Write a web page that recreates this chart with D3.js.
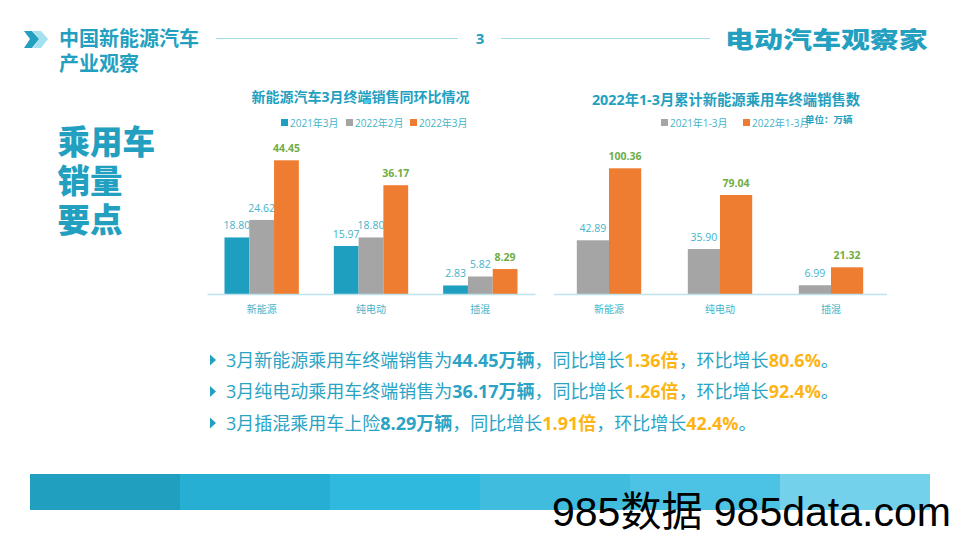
<!DOCTYPE html>
<html>
<head>
<meta charset="utf-8">
<script src="https://cdn.jsdelivr.net/npm/d3@7"></script>
<style>
  html, body { margin: 0; padding: 0; background: #fff; }
  svg { display: block; }
  text { font-family: "Open Sans", "Noto Sans CJK SC", sans-serif; }
</style>
</head>
<body>
<div id="chart"></div>
<script>
// data
const categories = ["新能源", "纯电动", "插混"];

const series1Names = ["2021年3月", "2022年2月", "2022年3月"];
const march2021 = [18.80, 15.97, 2.83];
const feb2022 = [24.62, 18.80, 5.82];
const march2022 = [44.45, 36.17, 8.29];

const series2Names = ["2021年1-3月", "2022年1-3月"];
const q1_2021 = [42.89, 35.90, 6.99];
const q1_2022 = [100.36, 79.04, 21.32];

const bulletLines = [
  [["3月新能源乘用车终端销售为", "n"], ["44.45万辆", "b"], ["，同比增长", "n"], ["1.36倍", "y"], ["，环比增长", "n"], ["80.6%", "y"], ["。", "n"]],
  [["3月纯电动乘用车终端销售为", "n"], ["36.17万辆", "b"], ["，同比增长", "n"], ["1.26倍", "y"], ["，环比增长", "n"], ["92.4%", "y"], ["。", "n"]],
  [["3月插混乘用车上险", "n"], ["8.29万辆", "b"], ["，同比增长", "n"], ["1.91倍", "y"], ["，环比增长", "n"], ["42.4%", "y"], ["。", "n"]]
];

const footerColors = ["#209fbe", "#26aed3", "#2fb9df", "#3fbcde", "#4cc3e4", "#74d1ec"];

// colours
const teal = "#1f9fc0";
const tealText = "#45b3c9";
const grey = "#a5a5a5";
const orange = "#ee7d31";
const green = "#70ad47";
const amber = "#fdb515";
const titleTeal = "#23a0bf";

const svg = d3.select("#chart").append("svg")
  .attr("width", 961)
  .attr("height", 540);

// header
svg.append("path").attr("d", "M33,31 L41,31 L48,39 L41,48 L33,48 L39,39 Z").attr("fill", "#a5e0f0");
svg.append("path").attr("d", "M24,31 L32,31 L39,39 L32,48 L24,48 L30,39 Z").attr("fill", "#23a0bf");

svg.append("text").attr("x", 59).attr("y", 46).text("中国新能源汽车")
  .attr("font-size", 20).attr("font-weight", 700).attr("fill", titleTeal);
svg.append("text").attr("x", 59).attr("y", 71).text("产业观察")
  .attr("font-size", 20).attr("font-weight", 700).attr("fill", titleTeal);

svg.append("line").attr("x1", 216).attr("x2", 458).attr("y1", 38.5).attr("y2", 38.5)
  .attr("stroke", "#a3e0e6").attr("stroke-width", 1);
svg.append("line").attr("x1", 501).attr("x2", 710).attr("y1", 38.5).attr("y2", 38.5)
  .attr("stroke", "#a3e0e6").attr("stroke-width", 1);
svg.append("text").attr("x", 480).attr("y", 44).attr("text-anchor", "middle").text("3")
  .attr("font-size", 15).attr("font-weight", 700).attr("fill", titleTeal);

svg.append("text").attr("transform", "translate(725,48) scale(1.26,1)").text("电动汽车观察家")
  .attr("font-size", 23).attr("font-weight", 900).attr("fill", titleTeal);

// side heading
["乘用车", "销量", "要点"].forEach(function(s, i) {
  svg.append("text").attr("x", 57.5).attr("y", 153.5 + i * 39).text(s)
    .attr("font-size", 32.5).attr("font-weight", 900).attr("fill", titleTeal)
    .style("font-family", "\"Liberation Sans\", \"Noto Sans CJK SC\", sans-serif");
});

// draws one bar panel
function drawPanel(opts) {
  const g = svg.append("g");

  const x = d3.scaleBand().domain(categories).range(opts.xRange).paddingInner(opts.padding).paddingOuter(opts.padding / 2);
  const x1 = d3.scaleBand().domain(d3.range(opts.series.length)).range([0, x.bandwidth()]);
  const y = d3.scaleLinear().domain([0, opts.yMax]).range([opts.baseY, opts.topY]);

  opts.series.forEach(function(values, i) {
    g.selectAll(null)
      .data(values)
      .enter()
      .append("rect")
        .attr("x", function(d, j) { return x(categories[j]) + x1(i); })
        .attr("y", function(d) { return y(d); })
        .attr("width", x1.bandwidth())
        .attr("height", function(d) { return opts.baseY - y(d); })
        .attr("fill", opts.colors[i]);

    const last = i == opts.series.length - 1;
    g.selectAll(null)
      .data(values)
      .enter()
      .append("text")
        .attr("x", function(d, j) { return x(categories[j]) + x1(i) + x1.bandwidth() / 2; })
        .attr("y", function(d) { return y(d) - 8; })
        .attr("text-anchor", "middle")
        .attr("font-size", 10.5)
        .attr("font-weight", last ? 700 : 400)
        .attr("fill", last ? green : tealText)
        .text(function(d) { return d.toFixed(2); });
  });

  // axis
  const axis = g.append("g")
    .attr("transform", `translate(0, ${opts.baseY})`)
    .call(d3.axisBottom(x).tickSize(0).tickPadding(12));
  axis.select(".domain").attr("stroke", "#bfe3ec").attr("stroke-width", 1.5);
  axis.selectAll("text")
    .attr("fill", tealText)
    .attr("font-size", 10)
    .style("font-family", "\"Noto Sans CJK SC\", sans-serif");

  // title
  g.append("text").attr("x", opts.titleX).attr("y", opts.titleY).attr("text-anchor", "middle").text(opts.title)
    .attr("font-size", opts.titleSize).attr("font-weight", 700).attr("fill", titleTeal);

  // legend
  opts.legend.forEach(function(item, i) {
    g.append("rect").attr("x", item.x).attr("y", 119).attr("width", 7).attr("height", 7).attr("fill", opts.colors[i]);
    g.append("text").attr("x", item.x + 9).attr("y", 126.5).text(item.name)
      .attr("font-size", 10).attr("fill", tealText);
  });
}

drawPanel({
  title: "新能源汽车3月终端销售同环比情况",
  titleX: 360.5,
  titleY: 102,
  titleSize: 14,
  series: [march2021, feb2022, march2022],
  colors: [teal, grey, orange],
  legend: [{name: series1Names[0], x: 281}, {name: series1Names[1], x: 346}, {name: series1Names[2], x: 410}],
  xRange: [207, 535],
  padding: 0.32,
  yMax: 44.45,
  baseY: 294,
  topY: 160.3
});

drawPanel({
  title: "2022年1-3月累计新能源乘用车终端销售数",
  titleX: 726,
  titleY: 105,
  titleSize: 14.3,
  series: [q1_2021, q1_2022],
  colors: [grey, orange],
  legend: [{name: series2Names[0], x: 661}, {name: series2Names[1], x: 743}],
  xRange: [553.5, 886.5],
  padding: 0.42,
  yMax: 100.36,
  baseY: 294,
  topY: 168.3
});

svg.append("text").attr("x", 805).attr("y", 123).text("单位：万辆")
  .attr("font-size", 9.5).attr("font-weight", 700).attr("fill", titleTeal);

// bullet lines
const styleFor = {
  n: {fill: "#2ba3c4", weight: 400},
  b: {fill: "#2ba3c4", weight: 700},
  y: {fill: amber, weight: 700}
};
bulletLines.forEach(function(line, i) {
  const yPos = 366.5 + i * 31.5;
  svg.append("path")
    .attr("d", `M210,${yPos - 12} L216,${yPos - 6.5} L210,${yPos - 1} Z`)
    .attr("fill", titleTeal);
  const t = svg.append("text").attr("x", 226).attr("y", yPos).attr("font-size", 18);
  line.forEach(function(seg) {
    t.append("tspan").text(seg[0])
      .attr("fill", styleFor[seg[1]].fill)
      .attr("font-weight", styleFor[seg[1]].weight);
  });
});

// footer band
svg.selectAll(".foot")
  .data(footerColors)
  .enter()
  .append("rect")
    .attr("class", "foot")
    .attr("x", function(d, i) { return 30 + i * 150; })
    .attr("y", 474)
    .attr("width", 150)
    .attr("height", 36)
    .attr("fill", function(d) { return d; });

// watermark
svg.append("text").attr("x", 552).attr("y", 526).text("985数据 985data.com")
  .attr("font-size", 41).attr("fill", "#000")
  .style("font-family", "\"Liberation Sans\", \"Noto Sans CJK SC\", sans-serif");
</script>
</body>
</html>
